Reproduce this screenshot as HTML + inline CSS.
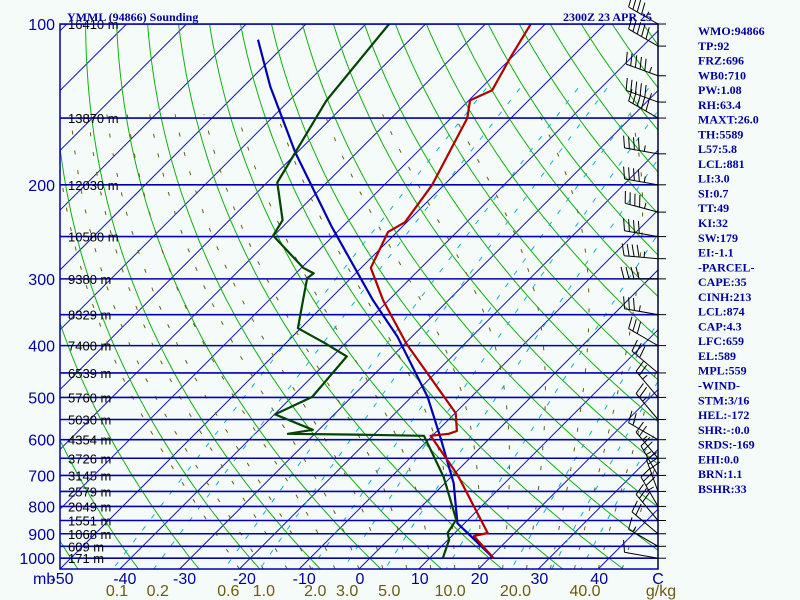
<!DOCTYPE html>
<html><head><meta charset="utf-8"><title>YMML Sounding</title>
<style>
html,body{margin:0;padding:0;background:#f5fbf8;}
svg{display:block;}
.pl{font-family:"Liberation Sans",sans-serif;font-size:16px;fill:#0000a0;}
.hl{font-family:"Liberation Sans",sans-serif;font-size:13px;fill:#000;}
.tl{font-family:"Liberation Sans",sans-serif;font-size:16px;fill:#0000a0;}
.ml{font-family:"Liberation Sans",sans-serif;font-size:16px;fill:#6b5a10;}
.side{font-family:"Liberation Serif",serif;font-weight:bold;font-size:12px;fill:#0000a0;}
</style></head>
<body>
<svg id="chart" width="800" height="600" viewBox="0 0 800 600">
<rect x="0" y="0" width="800" height="600" fill="#f5fbf8"/>
<defs><clipPath id="plotclip"><rect x="60" y="24" width="598" height="545"/></clipPath></defs>
<g id="grid" clip-path="url(#plotclip)"></g>
<g id="series" clip-path="url(#plotclip)"></g>
<g id="labels"></g>
<g id="winds"></g>
<text x="67" y="21" class="side" font-size="12">YMML (94866) Sounding</text>
<text x="652" y="21" class="side" text-anchor="end">2300Z 23 APR 25</text>
<g id="side"></g>
</svg>
<script>
// ---- data ----
const tempP=[100,115,133,139,150,200,235,245,286,329,397,535,578,585,590,699,897,909,1000];
const tempT=[-62.4,-60.3,-57.8,-59.8,-57.3,-52,-50.3,-51.5,-48.4,-40.9,-29.7,-9.9,-6.7,-7.6,-10.3,0.8,15.5,13.7,20.7];
const dewP=[100,139,198,233,249,286,293,299,329,371,396,419,499,538,575,585,587,590,705,847,897,924,1000];
const dewT=[-86.1,-83.8,-78.3,-71.1,-70.1,-59.7,-57,-57.3,-54.3,-50.5,-43.4,-37.6,-36.6,-39.9,-31,-34.5,-23,-11.4,-1.2,8,8.8,10.2,12.2];
const parcelP=[107,131,174,240,329,385,499,594,724,860,1000];
const parcelT=[-105.4,-95.5,-80.3,-61.7,-42.6,-32.4,-17.3,-8.4,1.5,8.8,20.7];
const isobarP=[100,150,200,250,300,350,400,450,500,550,600,650,700,750,800,850,900,950,1000];
const heightLabels=["16410 m","13870 m","12030 m","10580 m","9380 m","8329 m","7400 m","6539 m","5760 m","5030 m","4354 m","3726 m","3145 m","2579 m","2049 m","1551 m","1068 m","609 m","171 m"];
const pressureTicks=[100,200,300,400,500,600,700,800,900,1000];
const tempTicks=[-40,-30,-20,-10,0,10,20,30,40];
const mixRatios=[0.1,0.2,0.6,1.0,2.0,3.0,5.0,10.0,20.0,30.0,40.0];
const mixLabels=["0.1","0.2","0.6","1.0","2.0","3.0","5.0","10.0","20.0","40.0"];
const mixLabelVals=[0.1,0.2,0.6,1.0,2.0,3.0,5.0,10.0,20.0,40.0];
const windP=[100,110,125,140,150,175,200,225,250,275,300,350,400,450,500,550,600,650,700,750,800,850,900,950,1000];
const windDir=[300,300,290,290,300,280,280,285,280,275,270,280,300,310,320,320,300,320,330,340,330,320,310,300,280];
const windKt=[45,50,55,55,50,45,45,45,40,45,40,35,30,30,25,25,20,25,25,30,35,30,20,15,10];
const sideText=["WMO:94866","TP:92","FRZ:696","WB0:710","PW:1.08","RH:63.4","MAXT:26.0","TH:5589","L57:5.8","LCL:881","LI:3.0","SI:0.7","TT:49","KI:32","SW:179","EI:-1.1","-PARCEL-","CAPE:35","CINH:213","LCL:874","CAP:4.3","LFC:659","EL:589","MPL:559","-WIND-","STM:3/16","HEL:-172","SHR:-:0.0","SRDS:-169","EHI:0.0","BRN:1.1","BSHR:33"];

// ---- axes ----
const NS="http://www.w3.org/2000/svg";
const X0=60,X1=658,YTOP=24,YBOT=569;
function yP(p){return 24+232*Math.log(p/100);}
function xT(T,p){const y=yP(p);return 60+(T+50)*5.98+(YBOT-y);}
function mk(tag,attrs,parent){const e=document.createElementNS(NS,tag);for(const k in attrs)e.setAttribute(k,attrs[k]);parent.appendChild(e);return e;}
const grid=document.getElementById('grid'),series=document.getElementById('series'),labels=document.getElementById('labels');
const pMax=100*Math.exp((YBOT-24)/232);
const pLevels=[];for(let p=100;p<=pMax;p*=1.02)pLevels.push(p);pLevels.push(pMax);
function pathFrom(fn,ps){return ps.map((p,i)=>(i?'L':'M')+xT(fn(p),p).toFixed(1)+' '+yP(p).toFixed(1)).join(' ');}

// isotherms
for(let T=-160;T<=50;T+=10){
  const l=mk('line',{x1:xT(T,pMax),y1:YBOT,x2:xT(T,100),y2:YTOP,stroke:'#1010c0','stroke-width':1},grid);
  
}
// dry adiabats
for(let th=213.15;th<=533.15;th+=10){
  const d=pathFrom(p=>th*Math.pow(p/1000,0.2857)-273.15,pLevels);
  const e=mk('path',{d:d,fill:'none',stroke:'#10b010','stroke-width':1},grid);
  
}
// moist adiabats
function es(T){return 6.112*Math.exp(17.67*T/(T+243.5));}
function ws(T,p){const e=es(T);return 0.622*e/(p-e);}
function moistSlope(T,p){const Tk=T+273.15,w=ws(T,p),L=2.5e6,Rd=287,cp=1005;
  return (Rd*Tk+L*w)/(cp+L*L*w*0.622/(Rd*Tk*Tk))/p;}
for(let T0=-20;T0<=44;T0+=4){
  let T=T0,p=pMax;const pts=[[p,T]];
  while(p>150){const dp=-5;T+=moistSlope(T,p)*dp;p+=dp;pts.push([p,T]);}
  const d=pts.map((q,i)=>(i?'L':'M')+xT(q[1],q[0]).toFixed(1)+' '+yP(q[0]).toFixed(1)).join(' ');
  const e=mk('path',{d:d,fill:'none',stroke:'#6b5a10','stroke-width':1,'stroke-dasharray':'4 16'},grid);
  
}
// mixing ratio lines
mixRatios.forEach(w=>{
  const ps=pLevels.filter(p=>p>=130);
  const d=pathFrom(p=>{const e=p*(w/1000)/(0.622+w/1000);const a=Math.log(e/6.112);return 243.5*a/(17.67-a);},ps);
  const e=mk('path',{d:d,fill:'none',stroke:'#10b0d0','stroke-width':1,'stroke-dasharray':'5 10'},grid);
  
});
// isobars
isobarP.forEach((p,i)=>{
  const l=mk('line',{x1:X0,y1:yP(p),x2:X1,y2:yP(p),stroke:'#0000b0','stroke-width':1.6},grid);
  
  const t=mk('text',{x:68,y:yP(p)+5,class:'hl'},labels);t.textContent=heightLabels[i];
  
});
// frame
const fr=mk('rect',{x:X0,y:YTOP,width:X1-X0,height:YBOT-YTOP,fill:'none',stroke:'#0000b0','stroke-width':1.5},labels);

// pressure labels
pressureTicks.forEach(p=>{const t=mk('text',{x:55,y:yP(p)+6,class:'pl','text-anchor':'end'},labels);t.textContent=p;
  });
let t=mk('text',{x:33,y:584,class:'pl'},labels);t.textContent='mb';
t=mk('text',{x:62,y:584,class:'tl','text-anchor':'middle'},labels);t.textContent='-50';
tempTicks.forEach(T=>{const tt=mk('text',{x:xT(T,pMax)+(T<0?5:1),y:584,class:'tl','text-anchor':'middle'},labels);tt.textContent=T;
  });
t=mk('text',{x:658,y:584,class:'tl','text-anchor':'middle'},labels);t.textContent='C';
mixLabelVals.forEach((w,i)=>{const e=pMax*(w/1000)/(0.622+w/1000);const a=Math.log(e/6.112);const T=243.5*a/(17.67-a);
  const tt=mk('text',{x:xT(T,pMax)+4,y:596,class:'ml','text-anchor':'middle'},labels);tt.textContent=mixLabels[i];
  });
t=mk('text',{x:661,y:596,class:'ml','text-anchor':'middle'},labels);t.textContent='g/kg';

// profiles
function profile(P,T,color,name){
  const d=P.map((p,i)=>(i?'L':'M')+xT(T[i],p).toFixed(1)+' '+yP(p).toFixed(1)).join(' ');
  const e=mk('path',{d:d,fill:'none',stroke:color,'stroke-width':2.2,'stroke-linejoin':'round'},series);
  
}
profile(parcelP,parcelT,'#0000b0','parcel-trace');
profile(dewP,dewT,'#004400','dewpoint-profile');
profile(tempP,tempT,'#b00000','temperature-profile');

// wind barbs
const winds=document.getElementById('winds');
const ax=mk('line',{x1:658,y1:24,x2:658,y2:569,stroke:'#000','stroke-width':1},winds);

windP.forEach((p,i)=>{
  const y=yP(p),x=658;
  const tk=mk('line',{x1:x,y1:y,x2:x+8,y2:y,stroke:'#000','stroke-width':1},winds);
  
  const a=windDir[i]*Math.PI/180,L=34;
  const ux=Math.sin(a),uy=-Math.cos(a);
  const ex=x+ux*L,ey=y+uy*L;
  let d='M'+x+' '+y+' L'+ex.toFixed(1)+' '+ey.toFixed(1);
  let s=windKt[i],pos=0;
  const px=-uy,py=ux;
  while(s>=10){const bx=ex-ux*pos*5,by=ey-uy*pos*5;d+=' M'+bx.toFixed(1)+' '+by.toFixed(1)+' L'+(bx+px*12+ux*3).toFixed(1)+' '+(by+py*12+uy*3).toFixed(1);s-=10;pos++;}
  if(s>=5){const bx=ex-ux*pos*5,by=ey-uy*pos*5;d+=' M'+bx.toFixed(1)+' '+by.toFixed(1)+' L'+(bx+px*6).toFixed(1)+' '+(by+py*6).toFixed(1);}
  const b=mk('path',{d:d,fill:'none',stroke:'#000','stroke-width':1},winds);
  
});

// side panel
const side=document.getElementById('side');
sideText.forEach((s,i)=>{const tt=mk('text',{x:698,y:35+i*14.77,class:'side'},side);tt.textContent=s;
  });
</script>
</body></html>
